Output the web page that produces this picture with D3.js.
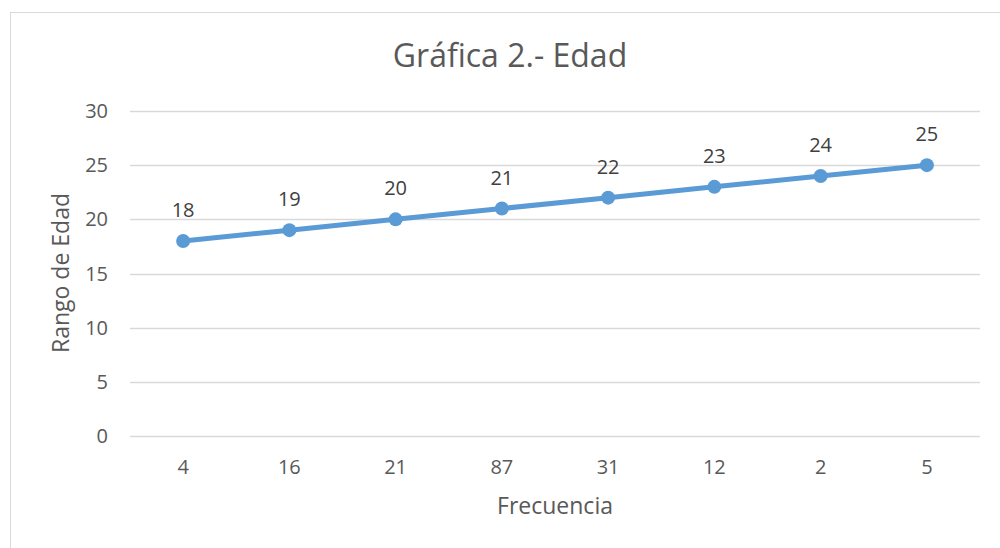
<!DOCTYPE html>
<html>
<head>
<meta charset="utf-8">
<script src="https://cdn.jsdelivr.net/npm/d3@7"></script>
<style>
body{margin:0;background:#fff;}
text{font-family:"Open Sans","Noto Sans",sans-serif;}
</style>
</head>
<body>
<svg id="chart" width="1000" height="548"></svg>
<script>
// data
var categories = ["4","16","21","87","31","12","2","5"];
var edad = [18,19,20,21,22,23,24,25];
var yTicks = [0,5,10,15,20,25,30];

var svg = d3.select("#chart");
var margin = {left:130,right:20,top:111,bottom:112};
var width = 1000 - margin.left - margin.right;
var height = 548 - margin.top - margin.bottom;

// outer chart border
svg.append("rect")
    .attr("x",10.5).attr("y",12.5)
    .attr("width",1000).attr("height",560)
    .attr("fill","none").attr("stroke","#d9d9d9").attr("stroke-width",1);

var g = svg.append("g").attr("transform","translate("+margin.left+","+margin.top+")");

var x = d3.scaleBand().domain(categories).range([0,width]);
var y = d3.scaleLinear().domain([0,30]).range([height,0]);

// gridlines
g.selectAll(".grid").data(yTicks).enter()
    .append("line")
    .attr("x1",0).attr("x2",width)
    .attr("y1",function(d){return Math.round(y(d))+0.5;})
    .attr("y2",function(d){return Math.round(y(d))+0.5;})
    .attr("stroke","#d9d9d9").attr("stroke-width",1.3);

// y tick labels
g.selectAll(".ytick").data(yTicks).enter()
    .append("text")
    .attr("x",-22).attr("y",function(d){return y(d);})
    .attr("dy","0.35em")
    .attr("text-anchor","end")
    .attr("fill","#595959").attr("font-size",20)
    .text(function(d){return d;});

// x tick labels
g.selectAll(".xtick").data(categories).enter()
    .append("text")
    .attr("x",function(d){return x(d)+x.bandwidth()/2;})
    .attr("y",height+38)
    .attr("text-anchor","middle")
    .attr("fill","#595959").attr("font-size",20)
    .text(function(d){return d;});

// line
var pts = categories.map(function(c,i){return {cat:c,val:edad[i]};});
var line = d3.line()
    .x(function(d){return x(d.cat)+x.bandwidth()/2;})
    .y(function(d){return y(d.val);});

g.append("path").datum(pts)
    .attr("d",line)
    .attr("fill","none").attr("stroke","#5b9bd5")
    .attr("stroke-width",5).attr("stroke-linecap","round");

g.selectAll(".dot").data(pts).enter()
    .append("circle")
    .attr("cx",function(d){return x(d.cat)+x.bandwidth()/2;})
    .attr("cy",function(d){return y(d.val);})
    .attr("r",7)
    .attr("fill","#5b9bd5");

// data labels
g.selectAll(".lbl").data(pts).enter()
    .append("text")
    .attr("x",function(d){return x(d.cat)+x.bandwidth()/2;})
    .attr("y",function(d){return y(d.val)-24;})
    .attr("text-anchor","middle")
    .attr("fill","#404040").attr("font-size",20)
    .text(function(d){return d.val;});

// title
svg.append("text")
    .attr("x",510).attr("y",67)
    .attr("text-anchor","middle")
    .attr("fill","#595959").attr("font-size",32)
    .text("Gráfica 2.- Edad");

// axis titles
svg.append("text")
    .attr("transform","translate(69,273) rotate(-90)")
    .attr("text-anchor","middle")
    .attr("fill","#595959").attr("font-size",23)
    .text("Rango de Edad");

svg.append("text")
    .attr("x",555).attr("y",514)
    .attr("text-anchor","middle")
    .attr("fill","#595959").attr("font-size",23)
    .text("Frecuencia");
</script>
</body>
</html>
